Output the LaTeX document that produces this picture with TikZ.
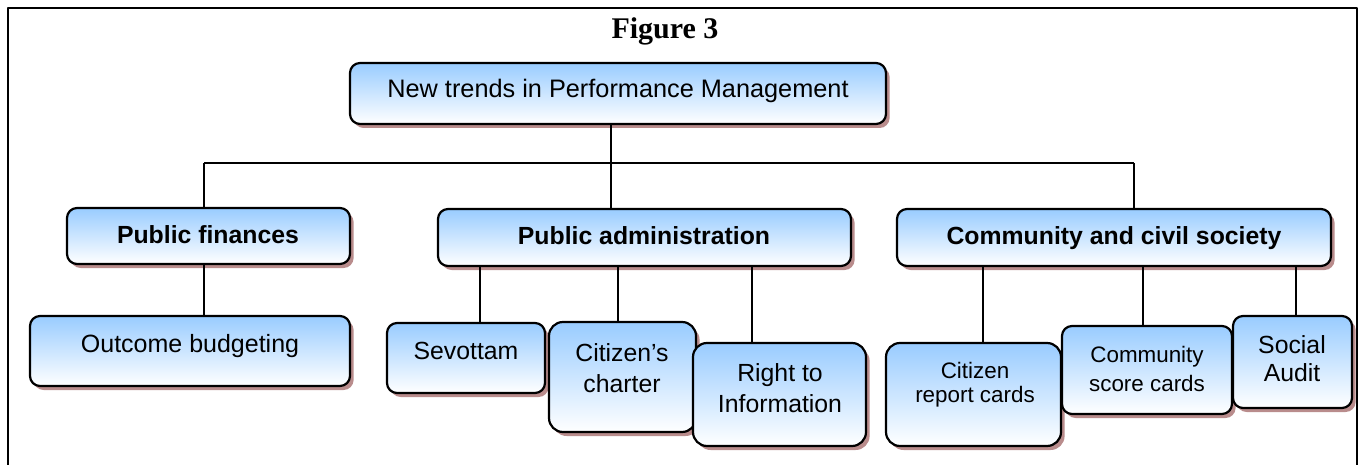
\documentclass[tikz,border=0pt]{standalone}
\usepackage{fontspec}
\newfontfamily\boxfont{Liberation Sans}
\newfontfamily\figfont{Liberation Serif}
\usetikzlibrary{fit,shadows}
\definecolor{boxblue}{RGB}{153,204,255}
\definecolor{shadowred}{RGB}{185,140,140}
\tikzset{
	blurb/.style={draw,line width=1.1pt,rounded corners=5pt,inner sep=0pt,
		top color=boxblue,bottom color=white,
		drop shadow={shadow xshift=1.8pt,shadow yshift=-2pt,fill=shadowred,opacity=1}},
	blurbtext/.style={font=\boxfont\fontsize{12.4}{15.5}\selectfont,align=center,inner sep=0pt},
	smalltext/.style={font=\boxfont\fontsize{11.2}{13}\selectfont,align=center,inner sep=0pt},
	link/.style={line width=0.8pt}
}
\begin{document}
\begin{tikzpicture}[x=0.5pt,y=-0.5pt,line join=round]
	\useasboundingbox (0,0) rectangle (1365,465);
	\draw[line width=1pt] (8,465)--(8,8)--(1357,8)--(1357,465);
	\node[font=\figfont\bfseries\fontsize{15}{17}\selectfont] (fig) at (665,31) {Figure 3};
	
	% bus lines
	\coordinate (busL) at (204,163);
	\coordinate (busM) at (611,163);
	\coordinate (busR) at (1134,163);
	
	% top level
	\node[blurb,fit={(350,63) (886,124)}] (top) {};
	\node[blurbtext,font=\boxfont\fontsize{12.65}{15}\selectfont] (top-t) at (618,91) {New trends in Performance Management};
	
	% second level
	\node[blurb,fit={(67,208) (350,264)}] (pf) {};
	\node[blurbtext,font=\boxfont\bfseries\fontsize{12.4}{15}\selectfont] (pf-t) at (208,235) {Public finances};
	\node[blurb,fit={(438,209) (851,266)}] (pa) {};
	\node[blurbtext,font=\boxfont\bfseries\fontsize{12.4}{15}\selectfont] (pa-t) at (644,236) {Public administration};
	\node[blurb,fit={(897,209) (1331,266)}] (cs) {};
	\node[blurbtext,font=\boxfont\bfseries\fontsize{12.4}{15}\selectfont] (cs-t) at (1114,238) {Community and civil society};
	
	% third level
	\node[blurb,fit={(30,316) (350,386)}] (ob) {};
	\node[blurbtext,font=\boxfont\fontsize{12.5}{15}\selectfont] (ob-t) at (190,346.5) {Outcome budgeting};
	
	\node[blurb,fit={(387,323) (545,393)}] (sev) {};
	\node[blurbtext] (sev-t) at (466,351) {Sevottam};
	\node[blurb,rounded corners=7pt,fit={(549,322) (696,432)}] (cc) {};
	\node[blurbtext] (cc-t) at (622,368.5) {Citizen’s\\charter};
	\node[blurb,rounded corners=7pt,fit={(693,343) (866,446)}] (rti) {};
	\node[blurbtext] (rti-t) at (780,388.5) {Right to\\Information};
	
	\node[blurb,rounded corners=7pt,fit={(886,343) (1061,446)}] (crc) {};
	\node[smalltext,font=\boxfont\fontsize{11.2}{12}\selectfont] (crc-t) at (975,385) {Citizen\\report cards};
	\node[blurb,fit={(1062,326) (1232,414)}] (csc) {};
	\node[smalltext,font=\boxfont\fontsize{11.2}{14.5}\selectfont] (csc-t) at (1147,368.5) {Community\\score cards};
	\node[blurb,fit={(1233,316) (1352,408)}] (sa) {};
	\node[blurbtext,font=\boxfont\fontsize{12.4}{14}\selectfont] (sa-t) at (1292,359) {Social\\Audit};
	
	% connectors
	\draw[link] (top.south -| busM)--(busM);
	\draw[link] (busL)--(busR);
	\draw[link] (busL)--(pf.north -| busL);
	\draw[link] (busM)--(pa.north -| busM);
	\draw[link] (busR)--(cs.north -| busR);
	\foreach \p/\c/\x in {pf/ob/204,pa/sev/480,pa/cc/618,pa/rti/752,cs/crc/983,cs/csc/1143,cs/sa/1296}
		\draw[link] (\p.south -| \x,0)--(\c.north -| \x,0);
\end{tikzpicture}
\end{document}
